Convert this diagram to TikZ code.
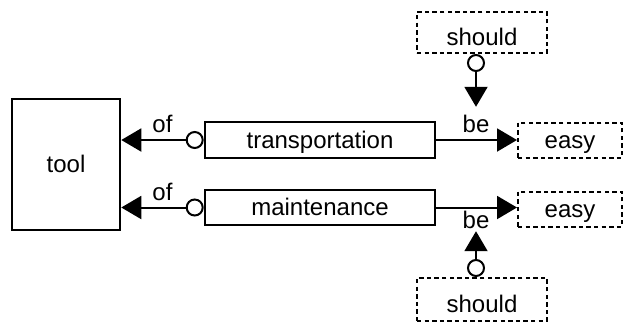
\documentclass[tikz,border=0pt]{standalone}
\usepackage{fontspec}
\setmainfont{Liberation Sans}
\usetikzlibrary{arrows.meta}

\begin{document}
\begin{tikzpicture}[
		x=0.5pt, y=-0.5pt,
		concept/.style = {draw, line width=1.3pt, inner sep=0pt, text height=10pt, text depth=2pt, font=\fontsize{12}{14}\selectfont},
		vague/.style   = {draw, line width=1pt, dash pattern=on 2.2pt off 1.6pt, inner sep=0pt, text height=10pt, text depth=2pt, font=\fontsize{12}{14}\selectfont},
		lbl/.style     = {inner sep=1pt, font=\fontsize{12}{14}\selectfont},
		link/.style    = {line width=1pt, {Circle[open, length=9pt, fill=white]}-{Triangle[length=10pt, width=11.5pt]}},
		plain/.style   = {line width=1pt, -{Triangle[length=10pt, width=11.5pt]}}
		]
		\useasboundingbox (0,0) rectangle (626,323);
		
		\node[concept, minimum width=54pt, minimum height=65.5pt] (tool) at (66,164.5) {tool};
		\node[concept, minimum width=115pt, minimum height=18pt] (trans) at (320,140) {transportation};
		\node[concept, minimum width=115pt, minimum height=17.5pt] (maint) at (320,207.5) {maintenance};
		
		% Dashed boxes on the right
		\node[vague, minimum width=52pt, minimum height=17.5pt] (easyA) at (570,140) {easy};
		\node[vague, minimum width=52pt, minimum height=17.5pt] (easyB) at (570,209) {easy};
		\node[vague, text height=13pt, text depth=0pt, minimum width=65pt, minimum height=20.5pt] (shouldA) at (482,32.5) {should};
		\node[vague, text height=13pt, text depth=0pt, minimum width=65pt, minimum height=21.5pt] (shouldB) at (482,299.5) {should};
		
		% of: back to the tool
		\draw[link] (trans.west) -- node[lbl, above=2pt] {of} (trans.west -| tool.east);
		\draw[link] (maint.west) -- node[lbl, above=2pt] {of} (maint.west -| tool.east);
		
		% be: on to easy
		\draw[plain] (trans.east) -- (trans.east -| easyA.west);
		\draw[plain] (maint.east) -- (maint.east -| easyB.west);
		\node[lbl] (beA) at (476,124) {be};
		\node[lbl] (beB) at (476,220) {be};
		
		% should points at be
		\draw[link, shorten >=3pt] (beA |- shouldA.south) -- (beA.north);
		\draw[link] (beB |- shouldB.north) -- (beB.south);
	\end{tikzpicture}
\end{document}
